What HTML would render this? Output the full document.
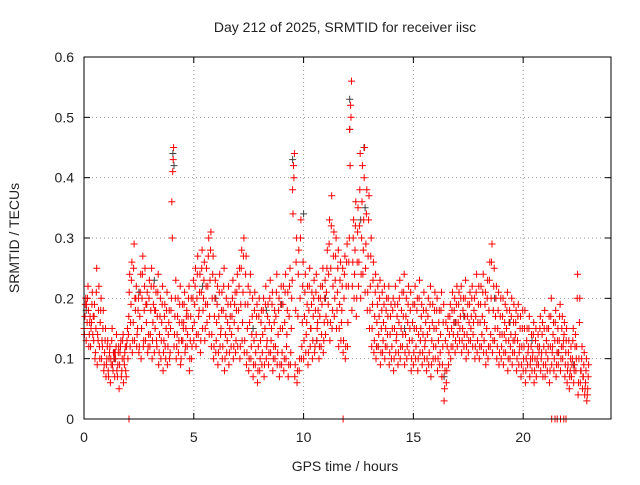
<!DOCTYPE html>
<html><head><meta charset="utf-8"><style>
body{margin:0;background:#fff;}
svg text{font-family:"Liberation Sans",sans-serif;font-size:14px;fill:#222;}
</style></head><body>
<svg id="chart" width="640" height="480" xmlns="http://www.w3.org/2000/svg">
<rect width="640" height="480" fill="#fff"/>
<text x="345" y="32" text-anchor="middle">Day 212 of 2025, SRMTID for receiver iisc</text>
<text x="345" y="471" text-anchor="middle">GPS time / hours</text>
<text x="19" y="238" text-anchor="middle" transform="rotate(-90 19 238)">SRMTID / TECUs</text>
<g id="grid"></g>
<g id="axes"></g>
<g id="marks"></g>
<rect x="84" y="57" width="527" height="362" fill="none" stroke="#000" stroke-width="1"/>
</svg>
<script>
const xTicks=[0,5,10,15,20];
const yTicks=[0,0.1,0.2,0.3,0.4,0.5,0.6];
const yTickLabels=["0","0.1","0.2","0.3","0.4","0.5","0.6"];
const seriesLow=[.15,.13,.18,.12,.14,.10,.09,.12,.10,.08,.07,.08,.06,.09,.07,.08,.05,.07,.06,.08,.10,.12,.11,.13,.12,.11,.10,.12,.13,.11,.12,.10,.11,.13,.09,.10,.08,.12,.09,.10,.36,.12,.10,.11,.09,.13,.11,.12,.08,.10,.13,.12,.14,.11,.15,.13,.16,.14,.12,.10,.11,.09,.12,.10,.08,.11,.09,.12,.10,.11,.12,.10,.13,.11,.09,.08,.10,.07,.09,.06,.08,.09,.07,.10,.09,.11,.08,.10,.09,.07,.09,.08,.10,.07,.09,.38,.07,.06,.08,.10,.10,.11,.09,.12,.10,.11,.13,.10,.12,.11,.14,.16,.13,.15,.17,.15,.12,.13,.11,.10,.12,.48,.18,.20,.17,.22,.20,.24,.21,.18,.15,.12,.11,.10,.12,.09,.11,.10,.12,.09,.10,.08,.11,.09,.10,.12,.09,.10,.11,.08,.09,.10,.08,.11,.09,.10,.08,.09,.07,.10,.10,.08,.09,.07,.03,.06,.09,.10,.12,.11,.12,.13,.11,.12,.10,.11,.13,.12,.10,.11,.10,.12,.11,.09,.10,.12,.11,.13,.10,.09,.10,.09,.11,.08,.10,.09,.11,.08,.09,.07,.08,.06,.09,.07,.08,.06,.07,.09,.08,.07,.07,.08,.06,.09,.08,.07,.09,.08,.10,.07,.06,.05,.07,.06,.08,.04,.06,.05,.04,.03];
const seriesLowMid=[.14,.19,.12,.15,.17,.11,.14,.10,.13,.09,.09,.07,.10,.08,.11,.07,.09,.08,.10,.07,.14,.16,.13,.20,.14,.12,.15,.13,.19,.12,.14,.13,.18,.12,.11,.13,.11,.10,.12,.11,.30,.14,.12,.13,.10,.15,.12,.14,.10,.12,.16,.14,.17,.13,.18,.15,.19,.17,.14,.12,.13,.11,.14,.12,.10,.13,.11,.14,.12,.13,.15,.12,.16,.13,.11,.10,.12,.09,.11,.08,.10,.11,.09,.12,.11,.13,.10,.12,.11,.09,.11,.10,.12,.09,.11,.34,.09,.08,.10,.12,.13,.14,.11,.15,.13,.12,.15,.12,.14,.13,.17,.19,.16,.18,.20,.18,.15,.16,.13,.12,.16,.42,.22,.24,.20,.26,.24,.28,.25,.21,.18,.15,.13,.12,.14,.11,.13,.12,.14,.11,.12,.10,.13,.11,.12,.14,.11,.12,.13,.10,.11,.12,.10,.13,.11,.12,.10,.11,.09,.12,.12,.10,.11,.09,.05,.08,.11,.12,.14,.13,.14,.15,.13,.14,.12,.13,.15,.14,.12,.13,.12,.14,.13,.11,.12,.14,.13,.15,.12,.11,.12,.11,.13,.10,.12,.11,.13,.10,.11,.09,.10,.08,.11,.09,.10,.08,.09,.11,.10,.09,.09,.10,.08,.11,.10,.09,.11,.10,.12,.09,.08,.07,.09,.08,.10,.06,.08,.07,.05,.04];
const seriesMid=[.17,.16,.14,.16,.13,.15,.13,.16,.12,.11,.10,.10,.09,.11,.10,.09,.11,.10,.09,.12,.17,.19,.16,.18,.15,.17,.20,.18,.16,.14,.18,.16,.15,.17,.14,.16,.13,.15,.14,.15,.41,.17,.14,.16,.13,.16,.15,.17,.13,.15,.19,.20,.18,.21,.20,.19,.22,.23,.20,.17,.16,.17,.15,.18,.14,.16,.15,.17,.16,.18,.18,.19,.21,.19,.15,.16,.14,.13,.14,.12,.13,.14,.15,.13,.16,.15,.12,.17,.14,.15,.15,.16,.14,.17,.15,.42,.18,.17,.20,.16,.17,.16,.18,.15,.17,.18,.16,.17,.19,.16,.21,.24,.25,.22,.23,.21,.19,.18,.20,.22,.22,.52,.26,.28,.26,.32,.30,.33,.29,.27,.22,.19,.17,.16,.17,.15,.16,.15,.17,.14,.15,.15,.14,.16,.15,.17,.14,.16,.15,.13,.15,.15,.14,.15,.14,.13,.14,.15,.13,.15,.15,.13,.14,.12,.08,.12,.14,.15,.16,.16,.16,.17,.15,.17,.14,.16,.17,.16,.17,.16,.16,.17,.16,.15,.18,.20,.18,.17,.15,.14,.14,.14,.15,.13,.14,.13,.14,.13,.12,.12,.12,.10,.12,.10,.11,.10,.10,.12,.11,.12,.11,.12,.12,.12,.13,.11,.13,.12,.13,.11,.09,.08,.10,.09,.12,.10,.08,.07,.06,.05];
const seriesMidHigh=[.19,.20,.16,.19,.17,.21,.18,.18,.15,.13,.12,.11,.13,.10,.12,.11,.12,.13,.11,.13,.21,.23,.25,.20,.18,.21,.24,.22,.19,.20,.22,.19,.18,.21,.17,.19,.17,.18,.16,.18,.43,.20,.17,.19,.16,.19,.17,.20,.17,.20,.22,.24,.21,.25,.23,.22,.27,.28,.24,.20,.19,.21,.18,.22,.17,.19,.17,.20,.19,.21,.22,.25,.27,.24,.19,.21,.17,.18,.17,.17,.16,.18,.19,.17,.20,.19,.16,.21,.18,.19,.19,.21,.18,.22,.20,.40,.26,.24,.30,.22,.21,.19,.22,.19,.20,.21,.18,.20,.22,.20,.25,.29,.32,.27,.27,.25,.23,.22,.24,.26,.26,.50,.30,.32,.31,.38,.36,.40,.34,.33,.27,.23,.21,.19,.20,.18,.19,.18,.20,.17,.18,.19,.17,.20,.18,.21,.17,.19,.18,.16,.19,.18,.20,.17,.18,.16,.17,.19,.16,.18,.18,.16,.18,.16,.13,.15,.17,.18,.18,.19,.19,.20,.18,.20,.17,.19,.20,.18,.21,.19,.19,.21,.19,.20,.23,.26,.22,.20,.18,.17,.17,.16,.18,.16,.17,.16,.16,.17,.15,.15,.15,.13,.15,.12,.14,.13,.12,.15,.14,.15,.13,.15,.17,.14,.16,.13,.17,.15,.14,.13,.11,.10,.13,.12,.20,.16,.10,.09,.08,.07];
const seriesHigh=[.20,.22,.17,.21,.19,.25,.22,.20,.18,.15,.13,.12,.15,.11,.14,.12,.13,.14,.12,.15,.24,.26,.29,.22,.20,.24,.27,.25,.21,.23,.25,.22,.21,.24,.20,.22,.19,.21,.18,.20,.45,.23,.20,.22,.19,.21,.18,.22,.20,.23,.25,.27,.24,.28,.26,.25,.30,.31,.27,.23,.22,.24,.21,.25,.20,.22,.19,.23,.21,.24,.25,.28,.30,.27,.22,.24,.20,.21,.19,.20,.18,.20,.22,.19,.23,.21,.18,.24,.20,.22,.22,.24,.21,.25,.23,.44,.30,.28,.33,.26,.24,.22,.25,.21,.23,.24,.20,.22,.25,.23,.28,.33,.37,.31,.30,.28,.26,.25,.27,.29,.30,.56,.33,.36,.35,.44,.42,.45,.38,.37,.30,.26,.24,.22,.23,.21,.22,.20,.22,.19,.20,.22,.19,.23,.21,.24,.20,.22,.21,.19,.22,.20,.23,.19,.21,.18,.20,.22,.19,.21,.20,.18,.21,.19,.16,.17,.19,.21,.20,.22,.21,.22,.20,.23,.19,.21,.22,.20,.24,.22,.22,.24,.21,.23,.26,.29,.25,.22,.21,.20,.20,.19,.21,.18,.20,.19,.18,.19,.17,.18,.18,.15,.17,.14,.16,.15,.14,.17,.16,.18,.15,.17,.20,.16,.18,.15,.19,.17,.16,.15,.13,.12,.15,.14,.24,.20,.12,.11,.10,.09];
const zeroTimes=[2.05,11.8,21.3,21.45,21.55,21.7,21.85,21.95];
const darkTimes=[4.05,4.1,9.5,12.1,12.1,12.75,12.8,10.0,12.6,16.4,2.5,6.0,8.3,18.7,19.4,14.6,11.0,3.2,0.1,13.4,17.3,1.4,5.4,7.7,9.0,10.6,15.3,16.9,20.4,21.6,22.3];
const darkValues=[.44,.42,.43,.53,.48,.45,.35,.34,.33,.07,.21,.20,.18,.20,.16,.15,.20,.23,.18,.12,.17,.10,.22,.15,.19,.13,.11,.16,.13,.11,.09];
const startHour=0, stepHour=0.1;

const X0=84,X1=611,Y0=419,Y1=57;
const xs=h=>X0+(h/24)*(X1-X0);
const ys=v=>Y0-(v/0.6)*(Y0-Y1);
const NS="http://www.w3.org/2000/svg";
const grid=document.getElementById('grid'),axes=document.getElementById('axes'),marks=document.getElementById('marks');
function mk(tag,attrs,parent){const e=document.createElementNS(NS,tag);for(const k in attrs)e.setAttribute(k,attrs[k]);parent.appendChild(e);return e;}
yTicks.forEach((v,i)=>{
  const y=ys(v);
  if(i>0&&i<yTicks.length-1){const g=mk('line',{x1:X0,x2:X1,y1:y,y2:y,stroke:'#999','stroke-dasharray':'1,3'},grid);
  
  }
  mk('line',{x1:X0,x2:X0+6,y1:y,y2:y,stroke:'#000'},axes);
  mk('line',{x1:X1,x2:X1-6,y1:y,y2:y,stroke:'#000'},axes);
  const t=mk('text',{x:X0-10,y:y+5,'text-anchor':'end'},axes);t.textContent=yTickLabels[i];
  
  
});
xTicks.forEach(h=>{
  const x=xs(h);
  if(h>0){const g=mk('line',{x1:x,x2:x,y1:Y0,y2:Y1,stroke:'#999','stroke-dasharray':'1,3'},grid);
  
  }
  mk('line',{x1:x,x2:x,y1:Y0,y2:Y0-6,stroke:'#000'},axes);
  mk('line',{x1:x,x2:x,y1:Y1,y2:Y1+6,stroke:'#000'},axes);
  const t=mk('text',{x:x,y:Y0+23,'text-anchor':'middle'},axes);t.textContent=String(h);
  
  
});
function plus(x,y){return `M${(x-3.5).toFixed(1)} ${y.toFixed(1)}h7M${x.toFixed(1)} ${(y-3.5).toFixed(1)}v7`;}
let d='';
[[seriesLow,0],[seriesLowMid,0.02],[seriesMid,0.04],[seriesMidHigh,0.06],[seriesHigh,0.08]].forEach(([arr,off])=>{
  arr.forEach((v,i)=>{d+=plus(xs(startHour+i*stepHour+off),ys(v));});
});
zeroTimes.forEach(h=>{d+=plus(xs(h),ys(0));});
let dd='';
darkTimes.forEach((h,i)=>{dd+=plus(xs(h),ys(darkValues[i]));});
const pd=mk('path',{d:dd,stroke:'#404040','stroke-width':1,fill:'none'},marks);


const pr=mk('path',{d:d,stroke:'#ff0000','stroke-width':1,fill:'none'},marks);


</script>
</body></html>
